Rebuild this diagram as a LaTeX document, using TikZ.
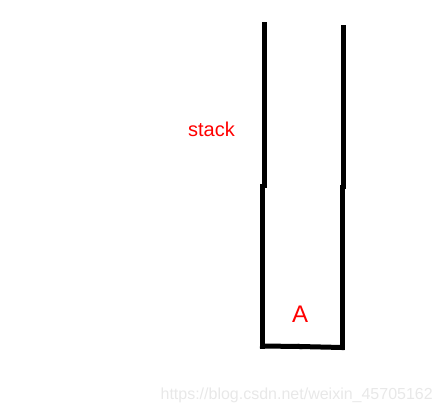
\documentclass[tikz,border=0pt]{standalone}
\usepackage{fontspec}
\setmainfont{Liberation Sans}
\usepackage{xcolor}
\usepackage{tikz}
\usetikzlibrary{positioning}

\definecolor{stackred}{RGB}{255,0,0}
\definecolor{markgray}{RGB}{232,232,232}

\begin{document}
\begin{tikzpicture}[
    x=1pt, y=-1pt,
    wall/.style={line width=5pt, black, line cap=rect},
    label/.style={text=stackred, inner sep=0pt, font=\fontsize{20}{24}\selectfont},
    item/.style={text=stackred, inner sep=0pt, font=\fontsize{24}{28}\selectfont},
    watermark/.style={text=markgray, inner sep=0pt, font=\fontsize{16}{19}\selectfont}
]
\useasboundingbox (0,0) rectangle (444,410);

% =====================
% Stack walls
% =====================
\coordinate (lefttop) at (264,24);
\coordinate (leftmid) at (264,185);
\coordinate (leftmidlow) at (262.5,186);
\coordinate (leftbot) at (262.5,346);
\coordinate (botmid) at (300,346.5);
\coordinate (rightbot) at (342,347.5);
\coordinate (rightmidlow) at (342,187);
\coordinate (rightmid) at (343.5,186);
\coordinate (righttop) at (343.5,27);

\draw[wall] (lefttop) -- (leftmid);
\draw[wall] (leftmidlow) -- (leftbot);
\draw[wall] (leftbot) -- (botmid);
\draw[wall] (botmid) -- (rightbot);
\draw[wall] (rightbot) -- (rightmidlow);
\draw[wall] (rightmid) -- (righttop);

% =====================
% Texts
% =====================
\node[label, anchor=base] (stack) at (211.5,136) {stack};
\node[item, anchor=base] (elemA) at (300,322) {A};
\node[watermark, anchor=base east] (mark) at (433,399) {https://blog.csdn.net/weixin\_45705162};

\end{tikzpicture}
\end{document}
